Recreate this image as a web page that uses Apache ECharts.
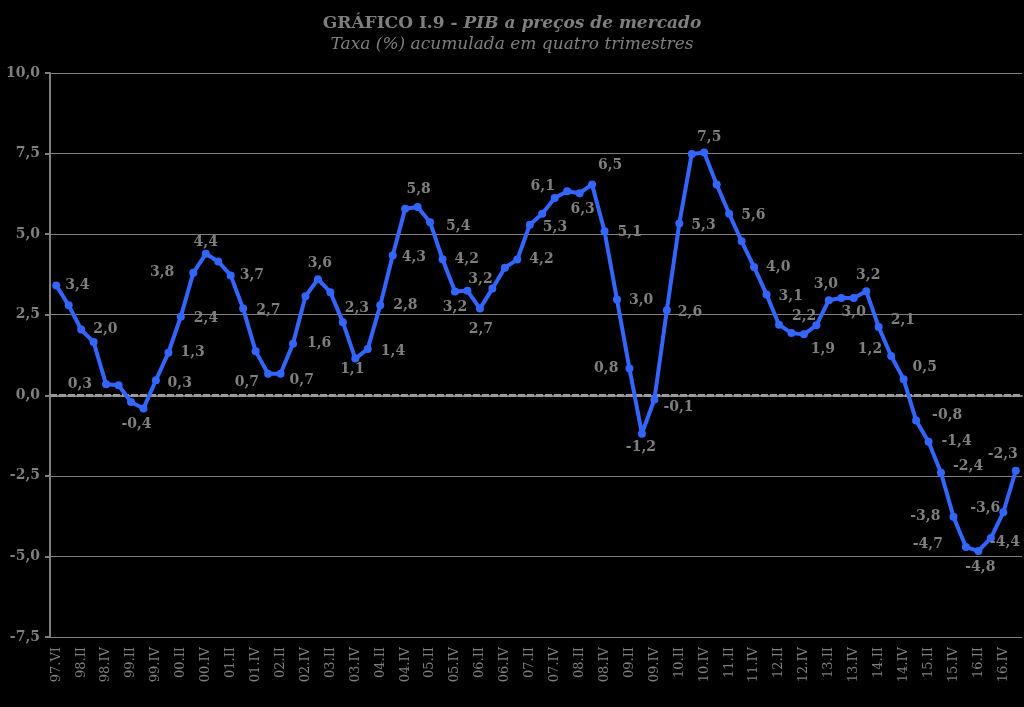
<!DOCTYPE html>
<html>
<head>
<meta charset="utf-8">
<script src="https://cdn.jsdelivr.net/npm/echarts@6/dist/echarts.min.js"></script>
<style>
html,body{margin:0;padding:0;background:#000;}
#chart{width:1024px;height:707px;}
</style>
</head>
<body>
<div id="chart"></div>
<script>
// ---- data ----
const titleMain = 'GRÁFICO I.9 - ';
const titleItalic = 'PIB a preços de mercado';
const subtitle = 'Taxa (%) acumulada em quatro trimestres';

const quarters = [
  '97.VI',
  '98.I','98.II','98.III','98.IV',
  '99.I','99.II','99.III','99.IV',
  '00.I','00.II','00.III','00.IV',
  '01.I','01.II','01.III','01.IV',
  '02.I','02.II','02.III','02.IV',
  '03.I','03.II','03.III','03.IV',
  '04.I','04.II','04.III','04.IV',
  '05.I','05.II','05.III','05.IV',
  '06.I','06.II','06.III','06.IV',
  '07.I','07.II','07.III','07.IV',
  '08.I','08.II','08.III','08.IV',
  '09.I','09.II','09.III','09.IV',
  '10.I','10.II','10.III','10.IV',
  '11.I','11.II','11.III','11.IV',
  '12.I','12.II','12.III','12.IV',
  '13.I','13.II','13.III','13.IV',
  '14.I','14.II','14.III','14.IV',
  '15.I','15.II','15.III','15.IV',
  '16.I','16.II','16.III','16.IV',
  '17.I'
];

const pibGrowth = [
  3.41,
  2.79, 2.04, 1.65, 0.34,
  0.31, -0.21, -0.41, 0.47,
  1.32, 2.44, 3.80, 4.39,
  4.15, 3.72, 2.69, 1.37,
  0.67, 0.67, 1.60, 3.07,
  3.60, 3.20, 2.27, 1.14,
  1.44, 2.79, 4.34, 5.79,
  5.84, 5.37, 4.22, 3.22,
  3.24, 2.69, 3.31, 3.96,
  4.21, 5.29, 5.63, 6.12,
  6.33, 6.27, 6.54, 5.09,
  2.97, 0.83, -1.19, -0.13,
  2.64, 5.33, 7.49, 7.53,
  6.54, 5.63, 4.78, 3.98,
  3.13, 2.19, 1.93, 1.89,
  2.17, 2.95, 3.02, 3.02,
  3.23, 2.12, 1.22, 0.50,
  -0.78, -1.44, -2.40, -3.77,
  -4.71, -4.83, -4.43, -3.63,
  -2.34
];

const yTicks = { min: -7.5, max: 10, step: 2.5 };

// ---- label placement (style only): index -> [position, dx, dy] ----
const labelPlacement = {
  0:['right',0,0], 2:['right',3,0], 4:['left',-5,0], 5:['right',40,-2],
  7:['bottom',-7,0], 9:['right',3,0], 10:['right',4,2], 11:['left',-10,0],
  12:['top',0,5], 14:['right',0,0], 15:['right',4,2], 17:['left',0,9],
  18:['right',0,7], 19:['right',5,0], 21:['top',2,0], 23:['top',14,2],
  24:['bottom',-3,-5], 25:['right',4,2], 26:['right',4,0], 27:['right',0,2],
  29:['top',1,-2], 30:['right',7,4], 31:['right',3,0], 32:['bottom',0,0],
  33:['top',13,4], 34:['bottom',1,5], 37:['right',3,0], 38:['right',4,3],
  40:['top',-12,4], 42:['bottom',3,0], 43:['top',18,-3], 44:['right',4,1],
  45:['right',3,1], 46:['left',-2,0], 47:['bottom',-1,-2], 48:['right',0,8],
  49:['right',2,2], 50:['right',3,2], 52:['top',5,1], 54:['right',3,2],
  56:['right',3,0], 57:['right',3,2], 58:['right',4,-8], 60:['bottom',19,-1],
  62:['top',-3,0], 64:['bottom',0,-2], 65:['top',2,0], 66:['right',3,-7],
  67:['left',0,-7], 68:['right',0,-12], 69:['right',7,-5], 70:['right',4,0],
  71:['right',3,-6], 72:['left',-4,0], 73:['left',-14,-3], 74:['bottom',2,0],
  75:['right',-10,4], 76:['left',6,-4], 77:['top',-13,0]
};

const grey = '#7f7f7f';
const blue = '#3366ff';
const fmt = v => Number(v).toFixed(1).replace('.', ',');

const seriesData = pibGrowth.map((v, i) => {
  const p = labelPlacement[i];
  if (!p) return { value: v };
  return { value: v, label: { show: true, position: p[0], offset: [p[1], p[2]] } };
});

const chart = echarts.init(document.getElementById('chart'), null, { renderer: 'canvas' });
chart.setOption({
  backgroundColor: '#000',
  animation: false,
  title: {
    text: '{a|' + titleMain + '}{b|' + titleItalic + '}',
    subtext: subtitle,
    left: 'center',
    top: 10,
    itemGap: 4,
    textStyle: {
      rich: {
        a: { fontFamily: 'DejaVu Serif', fontWeight: 'bold', fontSize: 17, color: grey },
        b: { fontFamily: 'DejaVu Serif', fontWeight: 'bold', fontStyle: 'italic', fontSize: 17, color: grey }
      }
    },
    subtextStyle: { fontFamily: 'DejaVu Serif', fontStyle: 'italic', fontSize: 17, color: grey }
  },
  grid: { left: 50, right: 2, top: 73, bottom: 70, containLabel: false },
  xAxis: {
    type: 'category',
    data: quarters,
    boundaryGap: true,
    axisLine: { show: true, lineStyle: { color: grey, width: 2 } },
    axisTick: { show: false },
    splitLine: { show: false },
    axisLabel: {
      interval: 1,
      rotate: 90,
      margin: 10,
      fontFamily: 'DejaVu Serif',
      fontSize: 13,
      color: grey
    }
  },
  yAxis: {
    type: 'value',
    min: yTicks.min,
    max: yTicks.max,
    interval: yTicks.step,
    axisLine: { show: true, lineStyle: { color: grey, width: 2 } },
    axisTick: { show: true, length: 5, lineStyle: { color: grey, width: 2 } },
    splitLine: { show: true, lineStyle: { color: grey, width: 1 } },
    axisLabel: {
      formatter: fmt,
      margin: 10,
      fontFamily: 'DejaVu Serif',
      fontWeight: 'bold',
      fontSize: 14,
      color: grey
    }
  },
  series: [{
    type: 'line',
    data: seriesData,
    symbol: 'circle',
    symbolSize: 8,
    lineStyle: { color: blue, width: 4 },
    itemStyle: { color: blue },
    label: {
      show: false,
      formatter: p => fmt(p.value),
      fontFamily: 'DejaVu Serif',
      fontWeight: 'bold',
      fontSize: 14,
      color: grey
    },
    markLine: {
      silent: true,
      symbol: 'none',
      label: { show: false },
      lineStyle: { color: '#9a9a9a', width: 3, type: [7, 2] },
      data: [{ yAxis: 0 }],
      z: 1
    },
    z: 3
  }]
});
</script>
</body>
</html>
